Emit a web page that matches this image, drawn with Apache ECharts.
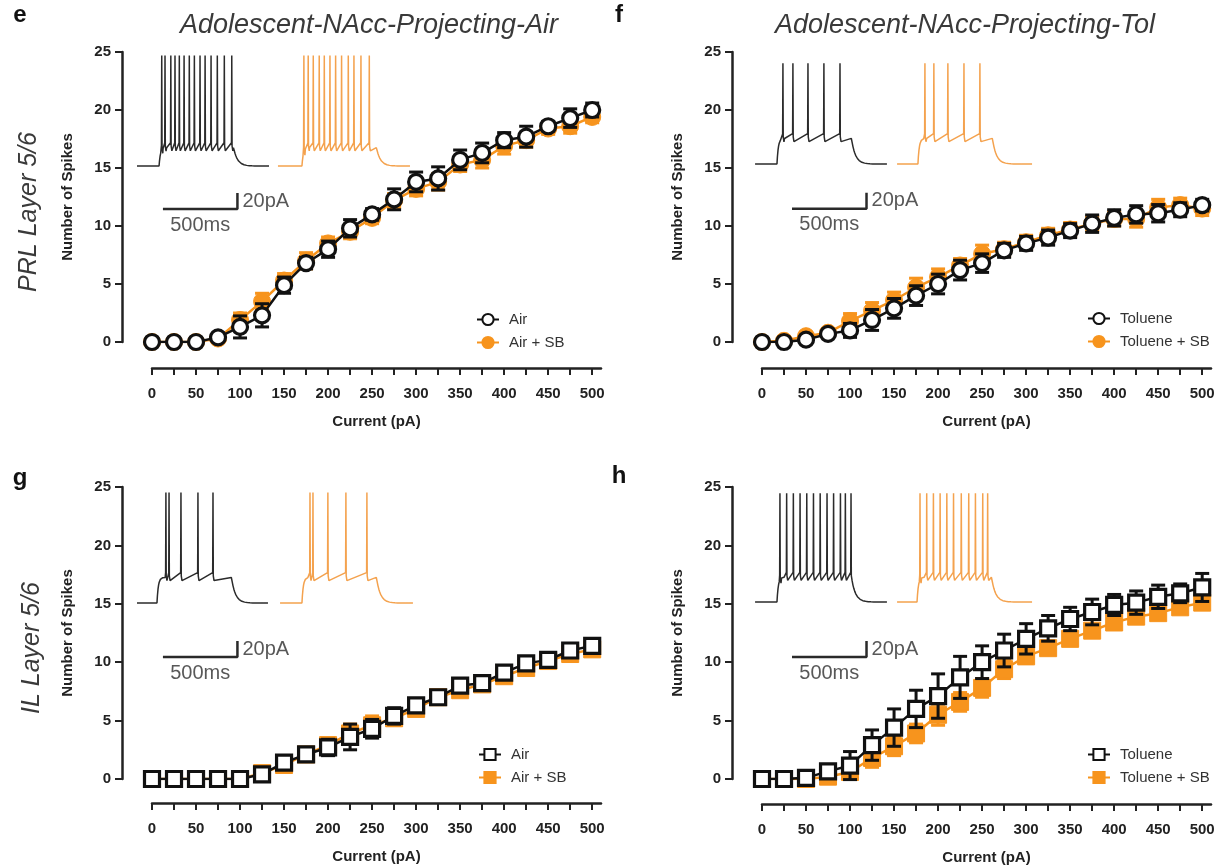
<!DOCTYPE html>
<html><head><meta charset="utf-8">
<script src="https://cdn.jsdelivr.net/npm/echarts@6/dist/echarts.min.js"></script>
<style>html,body{margin:0;padding:0;background:#fff}#c{width:1219px;height:868px}</style>
</head><body><div id="c"></div>
<script>
// ---------------- DATA ----------------
const currents = [0,25,50,75,100,125,150,175,200,225,250,275,300,325,350,375,400,425,450,475,500];
const xLabelValues = [0,50,100,150,200,250,300,350,400,450,500];

// panel e: PRL Air
const eAir      = [0,0,0,0.4,1.3,2.3,4.9,6.8,8.0,9.8,11.0,12.3,13.8,14.1,15.7,16.3,17.4,17.7,18.6,19.3,20.0];
const eAirErr   = [0,0,0,0.2,0.95,1.0,0.7,0.5,0.7,0.75,0.5,0.9,0.85,1.0,0.85,0.85,0.65,0.9,0.4,0.8,0.6];
const eAirSB    = [0,0,0,0.3,1.9,3.5,5.3,7.0,8.5,9.5,10.7,12.2,13.2,13.8,15.3,15.7,16.9,17.4,18.4,18.6,19.4];
const eAirSBErr = [0,0,0,0.2,0.6,0.7,0.6,0.7,0.55,0.6,0.5,0.6,0.6,0.7,0.6,0.7,0.7,0.6,0.5,0.6,0.5];
// panel f: PRL Toluene
const fTol      = [0,0,0.2,0.7,1.0,1.9,2.9,4.0,5.0,6.2,6.8,7.9,8.5,9.0,9.6,10.2,10.7,11.0,11.1,11.4,11.8];
const fTolErr   = [0,0,0.2,0.3,0.6,0.9,0.85,0.85,0.85,0.85,0.8,0.6,0.6,0.65,0.6,0.75,0.7,0.75,0.75,0.6,0.5];
const fTolSB    = [0,0.1,0.5,0.8,1.8,2.7,3.6,4.7,5.6,6.6,7.6,8.0,8.6,9.2,9.7,10.2,10.6,10.6,11.6,11.8,11.5];
const fTolSBErr = [0,0.1,0.3,0.3,0.65,0.7,0.7,0.8,0.7,0.6,0.75,0.6,0.6,0.6,0.6,0.6,0.6,0.7,0.7,0.6,0.6];
// panel g: IL Air
const gAir      = [0,0,0,0,0,0.4,1.4,2.1,2.7,3.6,4.3,5.4,6.3,7.0,8.0,8.2,9.1,9.9,10.2,11.0,11.4];
const gAirErr   = [0,0,0,0,0,0.2,0.4,0.6,0.7,1.1,0.8,0.7,0.5,0.4,0.4,0.4,0.4,0.4,0.3,0.3,0.3];
const gAirSB    = [0,0,0,0,0,0.5,1.2,2.1,2.9,3.9,4.6,5.2,6.0,7.0,7.6,8.1,8.8,9.5,10.1,10.7,11.1];
const gAirSBErr = [0,0,0,0,0,0.3,0.4,0.5,0.6,0.8,0.8,0.6,0.5,0.4,0.4,0.4,0.4,0.4,0.3,0.3,0.3];
// panel h: IL Toluene
const hTol      = [0,0,0.1,0.65,1.15,2.9,4.4,6.0,7.1,8.7,10.0,11.0,12.0,12.9,13.7,14.3,14.9,15.1,15.6,15.9,16.4];
const hTolErr   = [0,0,0.2,0.3,1.2,1.3,1.6,1.6,1.9,1.8,1.4,1.4,1.3,1.1,1.0,1.1,0.9,1.0,1.0,0.8,1.2];
const hTolSB    = [0,0,0,0.2,0.6,1.8,2.8,3.9,5.5,6.6,7.8,9.4,10.5,11.2,12.0,12.7,13.4,13.9,14.2,14.7,15.1];
const hTolSBErr = [0,0,0.1,0.3,0.4,0.8,0.8,0.8,0.9,0.8,0.8,0.8,0.6,0.5,0.5,0.5,0.5,0.5,0.5,0.5,0.5];

// example traces: spike times (ms after current-step onset)
const eAirSpikes   = [18,40,79,107,136,168,203,237,275,309,349,391,438,488];
const eAirSBSpikes = [13,42,76,116,150,188,226,266,311,349,396,452];
const fTolSpikes   = [40,107,208,315,423];
const fTolSBSpikes = [47,107,201,309,416];
const gAirSpikes   = [60,81,161,275,376];
const gAirSBSpikes = [54,74,174,295,436];
const hTolSpikes   = [20,65,110,155,200,245,290,336,380,426,459,497];
const hTolSBSpikes = [20,65,110,155,200,245,297,347,392,441,474];
// trace levels [rest, plateau, spike peak] (mV)
const eLevels = [-70,-47,68];
const fLevels = [-70,-38,56];
const gLevels = [-70,-38,68];
const hLevels = [-70,-39,66];
const stepDuration = 500;      // ms
const scaleBarTime = 500;      // ms
const scaleBarAmp = 20;        // "pA"

// ---------------- LAYOUT / STYLE ----------------
const BLACK = '#111', ORANGE = '#F7941D', TRACE_BLACK = '#2b2b2b', TRACE_ORANGE = '#F4A24E';
const FONT = 'Liberation Sans';
const panels = [
  {letter:'e', title:'Adolescent-NAcc-Projecting-Air', side:'PRL Layer 5/6', names:['Air','Air + SB'], symbol:'circle',
   ctrl:eAir, ctrlErr:eAirErr, sb:eAirSB, sbErr:eAirSBErr, spikes:[eAirSpikes,eAirSBSpikes], levels:eLevels,
   grid:{left:152,top:52,width:449,height:290}, xOff:26, yOff:30, legend:{left:471,top:307},
   inset:{left:130,top:46}, tr:{ctrl:[47,195,933], sb:[993,1154,1879]}, bar:[221,-123.75],
   letterPos:[20,15], titlePos:[369,25], sidePos:[29,212]},
  {letter:'f', title:'Adolescent-NAcc-Projecting-Tol', side:null, names:['Toluene','Toluene + SB'], symbol:'circle',
   ctrl:fTol, ctrlErr:fTolErr, sb:fTolSB, sbErr:fTolSBErr, spikes:[fTolSpikes,fTolSBSpikes], levels:fLevels,
   grid:{left:762,top:52,width:449,height:290}, xOff:26, yOff:30, legend:{left:1082,top:306},
   inset:{left:750,top:44}, tr:{ctrl:[34,181,919], sb:[987,1127,1893]}, bar:[282,-126],
   letterPos:[619,15], titlePos:[965,25], sidePos:null},
  {letter:'g', title:null, side:'IL Layer 5/6', names:['Air','Air + SB'], symbol:'rect',
   ctrl:gAir, ctrlErr:gAirErr, sb:gAirSB, sbErr:gAirSBErr, spikes:[gAirSpikes,gAirSBSpikes], levels:gLevels,
   grid:{left:152,top:487,width:449,height:292}, xOff:24, yOff:30, legend:{left:473,top:742},
   inset:{left:130,top:483}, tr:{ctrl:[47,181,926], sb:[1007,1154,1899]}, bar:[221,-137.5],
   letterPos:[20,478], titlePos:null, sidePos:[32,648]},
  {letter:'h', title:null, side:null, names:['Toluene','Toluene + SB'], symbol:'rect',
   ctrl:hTol, ctrlErr:hTolErr, sb:hTolSB, sbErr:hTolSBErr, spikes:[hTolSpikes,hTolSBSpikes], levels:hLevels,
   grid:{left:762,top:487,width:449,height:292}, xOff:25, yOff:30, legend:{left:1082,top:742},
   inset:{left:750,top:482}, tr:{ctrl:[34,181,919], sb:[987,1121,1893]}, bar:[282,-138.75],
   letterPos:[619,476], titlePos:null, sidePos:null}
];
const INSET_W = 298, INSET_H = 200, INSET_XMAX = 2000, INSET_YMIN = -170, INSET_YMAX = 80;

function buildTrace(t0, tOn, tEnd, spikes, lv, dur) {
  const rest = lv[0], plat = lv[1], peak = lv[2];
  const tOff = tOn + dur;
  const vOff = plat - (plat - rest) * Math.exp(-dur / 9);
  const sub = t => {
    if (t <= tOn) return rest;
    if (t <= tOff) return plat - (plat - rest) * Math.exp(-(t - tOn) / 9);
    return rest + (vOff - rest) * Math.exp(-(t - tOff) / 26);
  };
  const abs = spikes.map(s => tOn + s);
  const near = t => abs.some(s => t > s - 3 && t < s + 9);
  const samples = [t0, tOn];
  for (let d = 3; d <= 60; d += 4) samples.push(tOn + d);
  samples.push(tOff - 1, tOff);
  for (let d = 4; d <= 220; d += 6) samples.push(tOff + d);
  samples.push(tEnd);
  const pts = samples.filter(t => t <= tEnd && !near(t)).map(t => [t, sub(t)]);
  abs.forEach(s => {
    const v = sub(s);
    pts.push([s - 2, v + 6], [s, peak], [s + 2, v + 2], [s + 7, v - 4]);
  });
  pts.sort((a, b) => a[0] - b[0]);
  return pts;
}

function errRender(color, capHalf, lw) {
  return function (params, api) {
    const x = api.value(0), y = api.value(1), e = api.value(2);
    if (!e) return null;
    const top = api.coord([x, y + e]), bot = api.coord([x, y - e]);
    const style = {stroke: color, lineWidth: lw};
    return {type: 'group', children: [
      {type: 'line', shape: {x1: top[0], y1: top[1], x2: bot[0], y2: bot[1]}, style},
      {type: 'line', shape: {x1: top[0] - capHalf, y1: top[1], x2: top[0] + capHalf, y2: top[1]}, style},
      {type: 'line', shape: {x1: bot[0] - capHalf, y1: bot[1], x2: bot[0] + capHalf, y2: bot[1]}, style}
    ]};
  };
}

const grid = [], xAxis = [], yAxis = [], series = [], legend = [], graphic = [];
const tickLabel = {fontFamily: FONT, fontWeight: 'bold', fontSize: 15, color: '#222'};
const nameStyle = {fontFamily: FONT, fontWeight: 'bold', fontSize: 15, color: '#222'};

panels.forEach((p, i) => {
  const mi = 2 * i, gi = 2 * i + 1;   // main grid / inset grid indices
  grid.push(Object.assign({containLabel: false}, p.grid));
  xAxis.push({gridIndex: mi, type: 'value', min: 0, max: 510, interval: 25, offset: p.xOff,
    axisLine: {show: true, onZero: false, lineStyle: {color: '#222', width: 2.5}},
    axisTick: {show: true, length: 7, lineStyle: {color: '#222', width: 2}, customValues: currents},
    axisLabel: Object.assign({customValues: xLabelValues, margin: 18}, tickLabel),
    splitLine: {show: false},
    name: 'Current (pA)', nameLocation: 'middle', nameGap: 46, nameTextStyle: nameStyle});
  yAxis.push({gridIndex: mi, type: 'value', min: 0, max: 25, interval: 5, offset: p.yOff,
    axisLine: {show: true, onZero: false, lineStyle: {color: '#222', width: 2.5}},
    axisTick: {show: true, length: 7, lineStyle: {color: '#222', width: 2}},
    axisLabel: Object.assign({margin: 11}, tickLabel),
    splitLine: {show: false},
    name: 'Number of Spikes', nameLocation: 'middle', nameGap: 47, nameTextStyle: nameStyle});

  // inset grid (example traces + scale bar)
  grid.push({left: p.inset.left, top: p.inset.top, width: INSET_W, height: INSET_H});
  xAxis.push({gridIndex: gi, type: 'value', min: 0, max: INSET_XMAX, show: false});
  yAxis.push({gridIndex: gi, type: 'value', min: INSET_YMIN, max: INSET_YMAX, show: false});

  const n0 = p.letter + '|' + p.names[0], n1 = p.letter + '|' + p.names[1];
  const mk = (vals, errs) => currents.map((c, k) => [c, vals[k], errs[k]]);
  series.push({type: 'custom', xAxisIndex: mi, yAxisIndex: mi, z: 1, silent: true,
    renderItem: errRender(ORANGE, 7, 3), encode: {x: 0, y: 1}, data: mk(p.sb, p.sbErr)});
  series.push({type: 'line', name: n1, xAxisIndex: mi, yAxisIndex: mi, z: 2,
    data: currents.map((c, k) => [c, p.sb[k]]), symbol: p.symbol, symbolSize: 17, showAllSymbol: true,
    itemStyle: {color: ORANGE, borderColor: ORANGE, borderWidth: 1},
    lineStyle: {color: ORANGE, width: 2.5}});
  series.push({type: 'custom', xAxisIndex: mi, yAxisIndex: mi, z: 3, silent: true,
    renderItem: errRender(BLACK, 7, 3), encode: {x: 0, y: 1}, data: mk(p.ctrl, p.ctrlErr)});
  series.push({type: 'line', name: n0, xAxisIndex: mi, yAxisIndex: mi, z: 4,
    data: currents.map((c, k) => [c, p.ctrl[k]]), symbol: p.symbol, symbolSize: 15, showAllSymbol: true,
    itemStyle: {color: '#fff', borderColor: BLACK, borderWidth: 3.2},
    lineStyle: {color: BLACK, width: 2.5}});

  legend.push({data: [n0, n1], left: p.legend.left, top: p.legend.top, orient: 'vertical',
    itemWidth: 22, itemHeight: 14, itemGap: 8, selectedMode: false,
    formatter: nm => nm.split('|')[1],
    textStyle: {fontFamily: FONT, fontSize: 15, color: '#333', padding: [0, 0, 0, 5]}});

  const trc = p.tr.ctrl, trs = p.tr.sb;
  series.push({type: 'line', xAxisIndex: gi, yAxisIndex: gi, silent: true, symbol: 'none', z: 0,
    data: buildTrace(trc[0], trc[1], trc[2], p.spikes[0], p.levels, stepDuration),
    lineStyle: {color: TRACE_BLACK, width: 1.5}});
  series.push({type: 'line', xAxisIndex: gi, yAxisIndex: gi, silent: true, symbol: 'none', z: 0,
    data: buildTrace(trs[0], trs[1], trs[2], p.spikes[1], p.levels, stepDuration),
    lineStyle: {color: TRACE_ORANGE, width: 1.5}});
  const bx = p.bar[0], by = p.bar[1];
  series.push({type: 'line', xAxisIndex: gi, yAxisIndex: gi, silent: true, symbol: 'none', z: 0,
    data: [[bx, by], [bx + scaleBarTime, by], [bx + scaleBarTime, by + scaleBarAmp]],
    lineStyle: {color: '#2a2a2a', width: 2.5}});
  const barLabel = {fontFamily: FONT, fontSize: 20, color: '#2e2e2e'};
  series.push({type: 'scatter', xAxisIndex: gi, yAxisIndex: gi, silent: true, symbolSize: 0, z: 0,
    data: [
      {value: [bx + scaleBarTime / 2, by], label: Object.assign({show: true, position: 'bottom', distance: 6, formatter: scaleBarTime + 'ms'}, barLabel)},
      {value: [bx + scaleBarTime, by + scaleBarAmp / 2], label: Object.assign({show: true, position: 'right', distance: 5, formatter: scaleBarAmp + 'pA'}, barLabel)}
    ]});

  graphic.push({type: 'text', x: p.letterPos[0], y: p.letterPos[1],
    style: {text: p.letter, fontFamily: FONT, fontWeight: 'bold', fontSize: 24, fill: '#111', align: 'center', verticalAlign: 'middle'}});
  if (p.title) graphic.push({type: 'text', x: p.titlePos[0], y: p.titlePos[1],
    style: {text: p.title, fontFamily: FONT, fontStyle: 'italic', fontSize: 27, fill: '#3a3a3a', align: 'center', verticalAlign: 'middle'}});
  if (p.side) graphic.push({type: 'text', x: p.sidePos[0], y: p.sidePos[1], rotation: Math.PI / 2,
    style: {text: p.side, fontFamily: FONT, fontStyle: 'italic', fontSize: 25, fill: '#3a3a3a', align: 'center', verticalAlign: 'middle'}});
});

const chart = echarts.init(document.getElementById('c'), null, {renderer: 'canvas'});
chart.setOption({animation: false, backgroundColor: '#fff', textStyle: {fontFamily: FONT},
  grid, xAxis, yAxis, series, legend, graphic, tooltip: {show: false}});
</script>
</body></html>
